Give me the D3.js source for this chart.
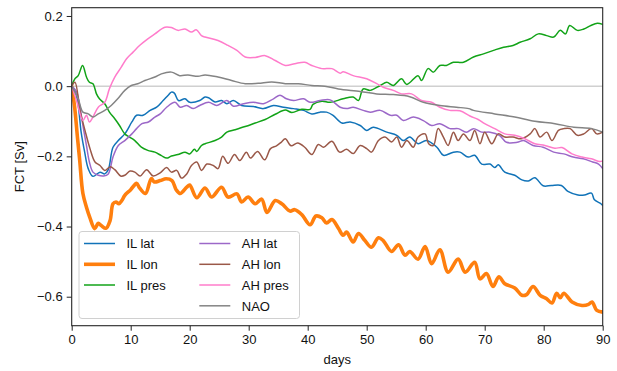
<!DOCTYPE html>
<html>
<head>
<meta charset="utf-8">
<script src="https://cdn.jsdelivr.net/npm/d3@7"></script>
<style>
  html, body { margin: 0; padding: 0; background: #fff; }
  svg { display: block; font-family: "Liberation Sans", Arial, Helvetica, sans-serif; }
</style>
</head>
<body>
<svg id="chart" width="617" height="371"></svg>
<script>
// Flux response [Sv] per perturbation, sampled as [day, value]
const ilLat = [[0,0],[0.5,-0.01],[1.1,-0.055],[1.6,-0.131],[2.2,-0.188],[2.8,-0.235],[3.6,-0.257],[4.8,-0.245],[5.6,-0.25],[6.2,-0.238],[7,-0.174],[7.9,-0.155],[9,-0.136],[10.2,-0.102],[11,-0.083],[12.1,-0.083],[13.3,-0.069],[14.4,-0.06],[15.5,-0.041],[16.4,-0.025],[16.9,-0.017],[17.4,-0.02],[18.1,-0.041],[19.2,-0.036],[20,-0.046],[21.7,-0.041],[22.6,-0.031],[23.2,-0.033],[24.3,-0.045],[25.4,-0.041],[26.3,-0.05],[27.4,-0.041],[28.8,-0.055],[30.8,-0.058],[32.5,-0.064],[34.2,-0.055],[35.9,-0.06],[37.6,-0.064],[39.3,-0.069],[40.7,-0.079],[42.1,-0.074],[43.2,-0.074],[44.3,-0.083],[45.8,-0.105],[47.2,-0.102],[48.9,-0.112],[50,-0.126],[51.1,-0.117],[53.4,-0.131],[55.1,-0.14],[56.2,-0.155],[57.3,-0.145],[58.7,-0.164],[60.1,-0.155],[61.9,-0.174],[63,-0.197],[64.7,-0.188],[65.8,-0.188],[67.2,-0.202],[68.3,-0.197],[69.5,-0.222],[70.9,-0.222],[71.7,-0.232],[72.3,-0.224],[73.4,-0.245],[75.1,-0.254],[76.3,-0.267],[77.4,-0.27],[78.5,-0.261],[79.9,-0.284],[81.3,-0.283],[83,-0.283],[84.1,-0.3],[85.8,-0.31],[86.9,-0.31],[88.1,-0.305],[88.6,-0.324],[89.7,-0.335],[90,-0.34]];

const ilLon = [[0,0],[0.5,-0.06],[1,-0.15],[1.35,-0.21],[1.9,-0.306],[2.5,-0.345],[3.05,-0.373],[3.9,-0.406],[4.5,-0.391],[5,-0.397],[5.8,-0.405],[6.5,-0.383],[7,-0.335],[7.5,-0.33],[8,-0.335],[8.5,-0.326],[9,-0.311],[10,-0.295],[11,-0.277],[11.5,-0.29],[12.5,-0.306],[13.5,-0.263],[14,-0.273],[15,-0.269],[16,-0.264],[17,-0.269],[17.7,-0.295],[18.4,-0.306],[19.5,-0.288],[20,-0.282],[21.2,-0.318],[22.6,-0.29],[23.7,-0.316],[25.4,-0.288],[26.5,-0.316],[28,-0.307],[28.8,-0.33],[29.9,-0.316],[31.1,-0.335],[32.2,-0.322],[33.1,-0.36],[34.5,-0.326],[35.6,-0.335],[37,-0.356],[37.8,-0.352],[39,-0.366],[40.4,-0.395],[41.4,-0.37],[42.4,-0.375],[43.2,-0.39],[44.1,-0.38],[45.2,-0.405],[46,-0.425],[46.6,-0.416],[47.7,-0.444],[48.6,-0.42],[49.7,-0.44],[50.8,-0.459],[52,-0.432],[52.8,-0.44],[54.2,-0.471],[55.4,-0.452],[56.5,-0.482],[57.3,-0.471],[58.7,-0.493],[59.9,-0.457],[61,-0.506],[62.4,-0.466],[63.8,-0.53],[65.5,-0.493],[66.7,-0.53],[68.3,-0.502],[69.2,-0.549],[70.3,-0.534],[71.4,-0.571],[72.4,-0.543],[73.4,-0.563],[75.1,-0.575],[76.3,-0.596],[77.1,-0.594],[78.2,-0.571],[79.4,-0.596],[80.5,-0.606],[81.4,-0.618],[82.2,-0.59],[82.8,-0.603],[83.4,-0.59],[84.8,-0.615],[86.5,-0.625],[87.6,-0.622],[88.2,-0.615],[89,-0.639],[90,-0.644]];

const ilPres = [[0,0],[0.5,0.02],[1.1,0.03],[1.85,0.059],[2.5,0.026],[3,0.011],[3.6,0.007],[4.2,-0.022],[4.7,-0.036],[5.6,-0.05],[6.4,-0.074],[7.3,-0.093],[8.1,-0.112],[9,-0.136],[9.8,-0.145],[10.7,-0.155],[11.8,-0.174],[12.9,-0.183],[14.1,-0.188],[15.2,-0.198],[16.1,-0.205],[16.9,-0.199],[18,-0.195],[19.2,-0.188],[20,-0.193],[20.8,-0.18],[21.2,-0.186],[22,-0.169],[22.6,-0.164],[24.3,-0.155],[25.4,-0.145],[26.3,-0.131],[27.7,-0.124],[29.4,-0.115],[31.1,-0.105],[32.8,-0.095],[34.5,-0.08],[36.2,-0.068],[37.3,-0.075],[39,-0.066],[40.4,-0.066],[40.9,-0.052],[42.4,-0.043],[43.8,-0.046],[46,-0.036],[47.7,-0.031],[48.6,-0.041],[49.4,-0.008],[50.6,-0.012],[52.3,0.002],[53.4,0.011],[54.5,0.002],[55.9,0.021],[56.8,0.005],[58.7,0.03],[59.3,0.016],[60.4,0.05],[61.3,0.04],[62.4,0.059],[63.5,0.059],[64.7,0.068],[66.4,0.068],[68.1,0.083],[69.8,0.092],[71.5,0.102],[73.2,0.111],[74.8,0.116],[76,0.125],[77.7,0.135],[79.1,0.149],[80.5,0.144],[81.7,0.14],[82.8,0.159],[83.7,0.149],[84.4,0.173],[85.7,0.159],[86.8,0.163],[88,0.173],[89.1,0.179],[90,0.176]];

const ahLat = [[0,0],[0.85,-0.017],[1.35,-0.055],[1.9,-0.112],[2.5,-0.169],[3,-0.216],[3.6,-0.245],[4.5,-0.254],[5.4,-0.256],[6.2,-0.25],[7,-0.202],[7.9,-0.169],[9,-0.155],[10.2,-0.136],[11,-0.121],[11.9,-0.107],[13,-0.102],[14.1,-0.088],[15,-0.079],[16.1,-0.06],[17.5,-0.046],[18.4,-0.06],[19.5,-0.055],[20.6,-0.064],[21.7,-0.055],[23.2,-0.046],[24.6,-0.055],[26.3,-0.041],[27.4,-0.057],[29.1,-0.05],[30.8,-0.046],[32.5,-0.05],[34.2,-0.036],[35.3,-0.026],[36.4,-0.036],[37.6,-0.041],[39.3,-0.036],[40.4,-0.046],[42.1,-0.041],[43.8,-0.039],[45.5,-0.06],[46.6,-0.064],[47.7,-0.06],[49.4,-0.069],[50.6,-0.074],[52.3,-0.069],[54,-0.083],[55.1,-0.083],[56.2,-0.098],[57.9,-0.088],[59.6,-0.098],[61,-0.112],[62.4,-0.107],[64.1,-0.121],[65.5,-0.121],[66.9,-0.131],[68.1,-0.121],[69.5,-0.131],[70.9,-0.131],[72.5,-0.14],[73.7,-0.16],[75.5,-0.16],[76.6,-0.155],[78.2,-0.169],[79.9,-0.174],[81.7,-0.188],[83.4,-0.193],[85,-0.202],[86.7,-0.207],[88.3,-0.216],[89.3,-0.222],[90,-0.235]];

const ahLon = [[0,0],[0.55,0.011],[1.4,-0.069],[2.25,-0.126],[3.1,-0.178],[3.95,-0.216],[4.8,-0.226],[5.6,-0.24],[6.5,-0.23],[7.3,-0.238],[8.3,-0.256],[9,-0.254],[9.9,-0.242],[10.7,-0.245],[11.6,-0.256],[12.7,-0.238],[13.8,-0.256],[15,-0.247],[16.1,-0.232],[16.9,-0.245],[17.8,-0.24],[18.6,-0.262],[19.5,-0.25],[20.3,-0.226],[21.2,-0.216],[22,-0.24],[22.9,-0.222],[24,-0.226],[24.8,-0.235],[25.6,-0.2],[26.5,-0.22],[27.6,-0.195],[28.5,-0.212],[29.6,-0.188],[30.3,-0.205],[31.5,-0.186],[32.7,-0.21],[33.7,-0.178],[34.7,-0.17],[35.5,-0.16],[36.2,-0.15],[37.2,-0.17],[38.3,-0.162],[39.5,-0.174],[40.7,-0.195],[41.8,-0.166],[42.7,-0.174],[44.1,-0.157],[45.4,-0.188],[46.6,-0.18],[47.7,-0.192],[48.9,-0.169],[50,-0.178],[50.8,-0.188],[52,-0.155],[53.1,-0.145],[54.2,-0.159],[55.1,-0.145],[55.9,-0.174],[56.8,-0.155],[57.9,-0.174],[58.7,-0.145],[59.9,-0.136],[60.5,-0.164],[61.3,-0.169],[62.1,-0.121],[63,-0.145],[63.8,-0.169],[64.7,-0.131],[65.5,-0.155],[66.4,-0.136],[67.5,-0.155],[68.3,-0.126],[69.2,-0.164],[70,-0.131],[71.2,-0.164],[72.3,-0.136],[73.4,-0.145],[74.8,-0.145],[76.2,-0.15],[77.7,-0.136],[78.5,-0.121],[79.4,-0.145],[80.5,-0.131],[81.4,-0.155],[82.5,-0.126],[83.4,-0.121],[84.5,-0.121],[85.7,-0.14],[86.8,-0.136],[88.1,-0.121],[89,-0.136],[90,-0.131]];

const ahPres = [[0,0],[0.8,-0.04],[1.9,-0.098],[2.5,-0.083],[3,-0.102],[3.6,-0.088],[4.5,-0.06],[5.6,-0.046],[6.4,-0.007],[7.3,0.026],[8.4,0.054],[9.3,0.078],[10.4,0.097],[11.5,0.116],[12.9,0.135],[14.1,0.149],[15.8,0.168],[16.9,0.167],[18,0.159],[19.2,0.163],[20.3,0.154],[21.1,0.161],[22,0.144],[22.6,0.14],[24.8,0.13],[26.5,0.116],[28,0.102],[29.4,0.083],[31.1,0.082],[32.8,0.087],[34.5,0.073],[36.2,0.059],[37.8,0.064],[39.5,0.068],[40.7,0.059],[42.4,0.05],[44.1,0.05],[45.5,0.037],[46,0.041],[47.7,0.03],[50,0.021],[51.7,0.007],[52.8,-0.003],[54.5,-0.012],[55.9,-0.022],[57.6,-0.022],[59.3,-0.041],[61,-0.046],[62.4,-0.06],[64.1,-0.069],[65.8,-0.07],[67.5,-0.085],[68.9,-0.095],[70,-0.107],[71.7,-0.121],[73.4,-0.136],[75.1,-0.14],[76.8,-0.15],[78.5,-0.164],[80.2,-0.169],[81.9,-0.177],[83.1,-0.175],[84.8,-0.193],[86.5,-0.202],[88.1,-0.207],[89.5,-0.215],[90,-0.213]];

const nao = [[0,0],[1.1,-0.036],[1.9,-0.074],[2.8,-0.079],[3.6,-0.088],[4.5,-0.079],[5.6,-0.069],[6.7,-0.055],[7.8,-0.036],[9,-0.012],[10.1,0.002],[11.2,0.007],[12.4,0.016],[14.1,0.026],[15.2,0.035],[16.9,0.04],[18.3,0.03],[19.7,0.032],[21.4,0.028],[22.6,0.032],[24.8,0.026],[27.1,0.016],[29.4,0.007],[31.6,0.008],[33.9,0.012],[36.2,0.007],[38.4,0.007],[40.7,0.002],[42.9,0],[45.2,-0.008],[48.9,-0.015],[51.7,-0.022],[54.5,-0.024],[57.3,-0.03],[59.6,-0.046],[62.4,-0.055],[65.2,-0.06],[67.3,-0.064],[68.1,-0.069],[71.7,-0.079],[75.1,-0.088],[78.5,-0.1],[81.9,-0.107],[85.1,-0.117],[88.1,-0.121],[90,-0.131]];

const seriesNames = ["IL lat", "IL lon", "IL pres", "AH lat", "AH lon", "AH pres", "NAO"];
const seriesData = [ilLat, ilLon, ilPres, ahLat, ahLon, ahPres, nao];
const seriesColors = ["#1173b8", "#ff7f0e", "#12a318", "#9c68c8", "#9a5848", "#ff7ccb", "#848484"];
const seriesWidths = [1.5, 3.6, 1.5, 1.5, 1.5, 1.5, 1.5];

const xTicks = [0, 10, 20, 30, 40, 50, 60, 70, 80, 90];
const yTicks = [0.2, 0.0, -0.2, -0.4, -0.6];

const svg = d3.select("#chart");
const plotLeft = 71.7, plotRight = 602.7, plotTop = 7.7, plotBottom = 325.7;

const x = d3.scaleLinear().domain([0, 90]).range([plotLeft, plotRight]);
const y = d3.scaleLinear().domain([-0.6826, 0.2236]).range([plotBottom, plotTop]);

// zero reference line
svg.append("line")
  .attr("x1", plotLeft).attr("x2", plotRight)
  .attr("y1", y(0)).attr("y2", y(0))
  .attr("stroke", "#b8b8b8").attr("stroke-width", 1);

// series lines (drawn in order so later series sit on top)
const line = d3.line().x(d => x(d[0])).y(d => y(d[1])).curve(d3.curveCatmullRom.alpha(0.5));
svg.append("clipPath").attr("id", "plotclip")
  .append("rect").attr("x", plotLeft).attr("y", plotTop)
  .attr("width", plotRight - plotLeft).attr("height", plotBottom - plotTop);
const lines = svg.append("g").attr("clip-path", "url(#plotclip)");
seriesData.forEach((d, i) => {
  lines.append("path")
    .datum(d)
    .attr("fill", "none")
    .attr("stroke", seriesColors[i])
    .attr("stroke-width", seriesWidths[i])
    .attr("stroke-linejoin", "round")
    .attr("stroke-linecap", "round")
    .attr("d", line);
});

// axes
const fmt = v => (v < 0 ? "\u2212" : "") + Math.abs(v).toFixed(1);
const xAxis = d3.axisBottom(x).tickValues(xTicks).tickSize(5).tickPadding(4).tickFormat(d3.format("d"));
const yAxis = d3.axisLeft(y).tickValues(yTicks).tickSize(5).tickPadding(4).tickFormat(fmt);

const gx = svg.append("g").attr("transform", `translate(0,${plotBottom})`).call(xAxis);
const gy = svg.append("g").attr("transform", `translate(${plotLeft},0)`).call(yAxis);
[gx, gy].forEach(g => {
  g.select(".domain").remove();
  g.selectAll(".tick line").attr("stroke", "#222").attr("stroke-width", 1);
  g.selectAll(".tick text").attr("fill", "#111").style("font-size", "13px")
    .style("font-family", "'Liberation Sans', Arial, Helvetica, sans-serif");
});

// frame
svg.append("rect")
  .attr("x", plotLeft).attr("y", plotTop)
  .attr("width", plotRight - plotLeft).attr("height", plotBottom - plotTop)
  .attr("fill", "none").attr("stroke", "#262626").attr("stroke-width", 1.1);

// axis titles
svg.append("text")
  .attr("x", (plotLeft + plotRight) / 2).attr("y", 364)
  .attr("text-anchor", "middle").attr("fill", "#111").style("font-size", "13px")
  .text("days");
svg.append("text")
  .attr("transform", `translate(24,${(plotTop + plotBottom) / 2}) rotate(-90)`)
  .attr("text-anchor", "middle").attr("fill", "#111").style("font-size", "13px")
  .text("FCT [Sv]");

// legend: two columns
const legend = svg.append("g");
legend.append("rect")
  .attr("x", 79).attr("y", 231.5).attr("width", 220.5).attr("height", 87)
  .attr("rx", 3).attr("fill", "#fff").attr("fill-opacity", 0.8)
  .attr("stroke", "#d0d0d0").attr("stroke-width", 1);
const rowY = [243.5, 264.3, 285, 305.8];
const colX = [84, 199.3];
seriesNames.forEach((name, i) => {
  const col = i < 3 ? 0 : 1;
  const row = i < 3 ? i : i - 3;
  const yy = rowY[row];
  legend.append("line")
    .attr("x1", colX[col]).attr("x2", colX[col] + 31)
    .attr("y1", yy).attr("y2", yy)
    .attr("stroke", seriesColors[i]).attr("stroke-width", seriesWidths[i]);
  legend.append("text")
    .attr("x", colX[col] + 42.5).attr("y", yy + 4.7)
    .attr("fill", "#111").style("font-size", "13px")
    .text(name);
});
</script>
</body>
</html>
